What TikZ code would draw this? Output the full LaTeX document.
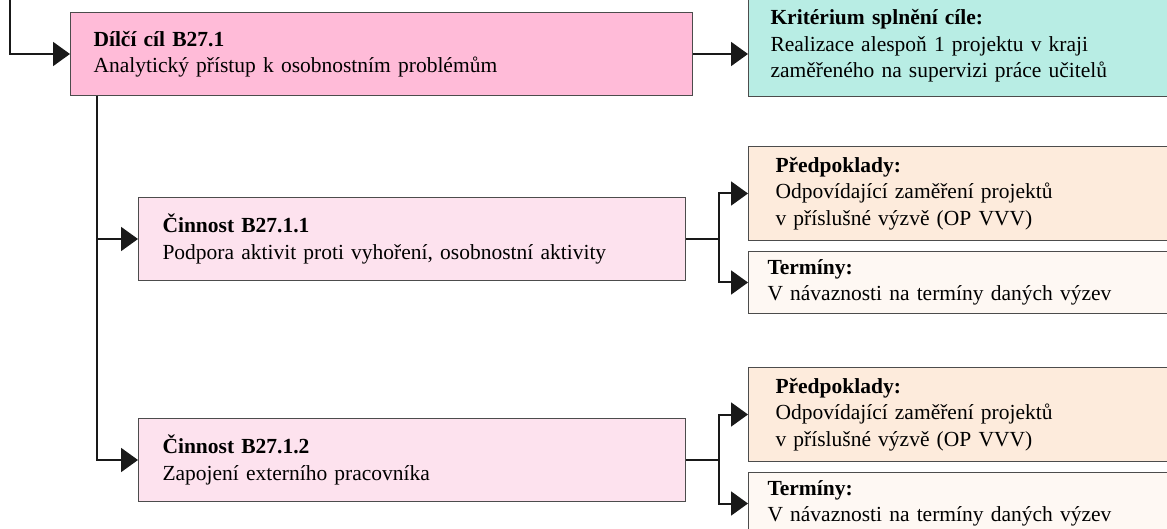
\documentclass[tikz,border=0pt]{standalone}
\usepackage{fontspec}
\setmainfont{Liberation Serif}
\usetikzlibrary{arrows.meta}
\definecolor{goalPink}{RGB}{255, 187, 216}
\definecolor{critTeal}{RGB}{184, 237, 228}
\definecolor{actPink}{RGB}{253, 226, 238}
\definecolor{predPeach}{RGB}{253, 235, 220}
\definecolor{termCream}{RGB}{254, 248, 243}

\begin{document}
\begin{tikzpicture}[x=1pt, y=1pt,
    box/.style={draw=black!70, line width=1pt, anchor=north west, align=left,
      inner ysep=0pt, font=\fontsize{21.5}{26.5}\selectfont},
    goalbox/.style={box, fill=goalPink, inner xsep=23pt, text width=576pt, minimum height=83pt},
    critbox/.style={box, fill=critTeal, inner xsep=22pt, text width=393pt, minimum height=101pt},
    actbox/.style={box, fill=actPink, inner xsep=24pt, text width=499pt, minimum height=83pt},
    predbox/.style={box, fill=predPeach, inner xsep=27pt, text width=383pt, minimum height=94pt},
    termbox/.style={box, fill=termCream, inner xsep=19pt, text width=399pt, minimum height=62pt},
    link/.style={line width=2pt, draw=black!90},
    arr/.style={link, -{Triangle[length=17pt, width=24pt]}}]
      \useasboundingbox (0,0) rectangle (1167,-529);
      \clip (0,0) rectangle (1167,-529);

      \node[goalbox] (goal) at (70,-12) {\textbf{Dílčí cíl B27.1}\\Analytický přístup k osobnostním problémům};
      \node[critbox] (crit) at (748,5) {\textbf{Kritérium splnění cíle:}\\Realizace alespoň 1 projektu v kraji\\zaměřeného na supervizi práce učitelů};

      \node[actbox] (act1) at (138,-197) {\textbf{Činnost B27.1.1}\\Podpora aktivit proti vyhoření, osobnostní aktivity};
      \node[predbox] (pred1) at (748,-146) {\textbf{Předpoklady:}\\Odpovídající zaměření projektů\\v příslušné výzvě (OP VVV)};
      \node[termbox] (term1) at (748,-251) {\textbf{Termíny:}\\V návaznosti na termíny daných výzev};

      \node[actbox] (act2) at (138,-418) {\textbf{Činnost B27.1.2}\\Zapojení externího pracovníka};
      \node[predbox] (pred2) at (748,-367) {\textbf{Předpoklady:}\\Odpovídající zaměření projektů\\v příslušné výzvě (OP VVV)};
      \node[termbox] (term2) at (748,-472) {\textbf{Termíny:}\\V návaznosti na termíny daných výzev};

      % connectors
      \coordinate (entry) at (10,0);
      \coordinate (spine) at ([xshift=27pt]goal.south west);
      \coordinate (fork1) at ([xshift=33pt]act1.east);
      \coordinate (fork2) at ([xshift=33pt]act2.east);

      \draw[arr] (entry) |- (goal.west);
      \draw[arr] (goal.east) -- (goal.east -| crit.west);
      \draw[arr] (spine) |- (act1.west);
      \draw[arr] (spine) |- (act2.west);

      \draw[link] (act1.east) -- (fork1);
      \draw[arr] (fork1) |- (pred1.west);
      \draw[arr] (fork1) |- (term1.west);
      \draw[link] (act2.east) -- (fork2);
      \draw[arr] (fork2) |- (pred2.west);
      \draw[arr] (fork2) |- (term2.west);
    \end{tikzpicture}
\end{document}
